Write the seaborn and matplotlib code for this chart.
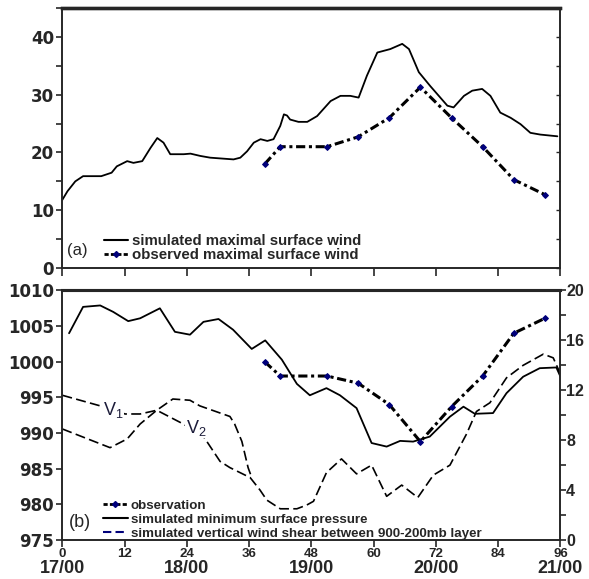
import matplotlib
matplotlib.use("Agg")
import matplotlib.pyplot as plt
from matplotlib.lines import Line2D
from matplotlib.ticker import MultipleLocator
import pandas as pd
import seaborn as sns

# ---------------- data ----------------
# (a) maximal surface wind (m/s)
wind_sim_hours = [0, 1, 2.5, 4, 7.5, 9.5, 10.5, 12.5, 13.7, 15.4, 17, 18.3, 19.5, 20.8,
                  23.4, 24.7, 26.6, 28.5, 33, 34.3, 35.6, 36.9, 38.2, 39.5, 40.7, 42,
                  42.7, 43.3, 43.9, 45.5, 47.2, 49.1, 51.7, 53.6, 55.5, 57.1, 58.7, 60.7,
                  63.2, 65.5, 66.8, 68.7, 70.9, 74.2, 75.4, 77.4, 79, 80.9, 82.5, 84.4,
                  86.4, 88.3, 90.2, 92.1, 95.4]
wind_sim = [11.8, 13.3, 15.0, 15.9, 15.9, 16.5, 17.6, 18.5, 18.2, 18.5, 20.8, 22.5, 21.7,
            19.7, 19.7, 19.8, 19.4, 19.1, 18.8, 19.1, 20.2, 21.7, 22.3, 22.0, 22.3, 24.6,
            26.6, 26.4, 25.7, 25.3, 25.3, 26.3, 28.9, 29.8, 29.8, 29.5, 33.3, 37.3, 37.9,
            38.8, 37.9, 33.9, 31.5, 28.1, 27.8, 29.8, 30.7, 31.0, 29.8, 26.9, 26.0, 24.9,
            23.4, 23.1, 22.8]
obs_hours = [39, 42, 51, 57, 63, 69, 75, 81, 87, 93]
wind_obs = [18.0, 21.0, 21.0, 22.7, 26.0, 31.3, 26.0, 21.0, 15.3, 12.7]

# (b) minimum surface pressure (hPa)
pres_sim_hours = [1.3, 4, 7.3, 9.8, 12.7, 15, 18.8, 21.7, 24.6, 27.2, 30.1, 32.9, 36.5,
                  39.1, 42.3, 45.2, 47.7, 50.9, 53.5, 56.7, 59.6, 62.5, 65.1, 67.6, 70.8,
                  74.7, 77.3, 79.5, 83, 85.6, 88.8, 92, 95.2, 96]
pres_sim = [1004.0, 1007.7, 1007.9, 1007.0, 1005.7, 1006.1, 1007.5, 1004.2, 1003.8,
            1005.6, 1006.0, 1004.5, 1001.8, 1003.0, 1000.3, 996.9, 995.3, 996.3, 995.3,
            993.5, 988.6, 988.1, 988.9, 988.8, 989.5, 992.3, 993.7, 992.7, 992.8, 995.6,
            997.9, 999.1, 999.2, 997.9]
pres_obs = [1000.0, 998.0, 998.0, 997.0, 994.0, 988.8, 993.7, 998.0, 1004.0, 1006.1]

# (b) vertical wind shear 900-200 mb (m/s), right axis
shear1_hours = [0, 7.3, 12.1, 15, 18.2, 21.3, 24.6, 26.5, 32.3, 33.2, 34.6, 35.8, 36.5]
shear1 = [11.6, 10.75, 10.1, 10.1, 10.4, 11.3, 11.2, 10.75, 9.9, 9.3, 7.9, 5.8, 5.0]
shear2_hours = [0, 9.2, 12.5, 15, 18.2, 23.3, 27.2, 30.4, 32.3, 36.2, 38.1, 39.4, 42,
                45.2, 47.1, 48.4, 50.9, 53.8, 56.7, 59.6, 62.5, 65.4, 68.5, 71.5, 74.7,
                77.9, 79.8, 82.4, 85.6, 88.8, 92.7, 94.6, 96]
shear2 = [8.9, 7.4, 8.1, 9.3, 10.4, 9.3, 8.3, 6.3, 5.8, 5.0, 4.0, 3.2, 2.5, 2.5, 2.8, 3.1,
          5.4, 6.5, 5.3, 6.0, 3.5, 4.4, 3.4, 5.2, 6.0, 8.5, 10.3, 11.0, 13.0, 14.0, 14.9,
          14.6, 13.3]

hour_ticks = [0, 12, 24, 36, 48, 60, 72, 84, 96]
date_hours = [0, 24, 48, 72, 96]
date_labels = ["17/00", "18/00", "19/00", "20/00", "21/00"]

# ---------------- style ----------------
sns.set_style("ticks")
plt.rcParams["font.family"] = ["Liberation Sans", "DejaVu Sans"]
plt.rcParams["axes.linewidth"] = 1.2
plt.rcParams["xtick.major.width"] = 1.2
plt.rcParams["ytick.major.width"] = 1.2
plt.rcParams["ytick.minor.width"] = 1.2

NAVY = "#00007a"
OBS_LS = (0, (3, 1.2, 1, 1.2))
SHEAR_LS = (0, (6, 2.6))

fig = plt.figure(figsize=(5.89, 5.79), dpi=100)
ax1 = fig.add_axes([0.1058, 0.5371, 0.8458, 0.449])
ax2 = fig.add_axes([0.1058, 0.0674, 0.8458, 0.4309])

left_font = dict(family="DejaVu Sans", weight="bold", size=12)

# ---------------- panel (a) ----------------
df_ws = pd.DataFrame({"hour": wind_sim_hours, "wind": wind_sim})
df_wo = pd.DataFrame({"hour": obs_hours, "wind": wind_obs})
sns.lineplot(data=df_ws, x="hour", y="wind", ax=ax1, color="black", linewidth=1.3,
             errorbar=None)
sns.lineplot(data=df_wo, x="hour", y="wind", ax=ax1, color="black", linewidth=2.2,
             linestyle=OBS_LS, marker="D", markersize=3, markerfacecolor=NAVY,
             markeredgecolor=NAVY, errorbar=None)

ax1.set_xlim(0, 96)
ax1.set_ylim(0, 45)
ax1.set_xlabel("")
ax1.set_ylabel("")
ax1.set_xticks(hour_ticks)
ax1.set_xticklabels([])
ax1.tick_params(axis="x", direction="out", length=6, width=1.2)
ax1.set_yticks([0, 10, 20, 30, 40])
ax1.yaxis.set_minor_locator(MultipleLocator(5))
ax1.tick_params(axis="y", which="both", direction="out", length=4, pad=2)
for t in ax1.get_yticklabels():
    t.set_fontproperties(left_font)
ax1.spines["top"].set_linewidth(2.4)

ax1r = ax1.twinx()
ax1r.set_ylim(0, 45)
ax1r.set_yticks([0, 5, 10, 15, 20, 25, 30, 35, 40])
ax1r.set_yticklabels([])
ax1r.tick_params(axis="y", direction="in", length=3, width=1.0)
ax1r.spines["top"].set_linewidth(2.4)

h_a = [Line2D([], [], color="black", lw=1.5),
       Line2D([], [], color="black", lw=2.0, ls=(0, (1.5, 0.8)), marker="D",
              markersize=3, markerfacecolor=NAVY, markeredgecolor=NAVY)]
ax1.legend(h_a, ["simulated maximal surface wind", "observed maximal surface wind"],
           loc="lower left", bbox_to_anchor=(0.083, 0.022), frameon=False,
           borderpad=0, borderaxespad=0, handlelength=1.6, handletextpad=0.3,
           labelspacing=0.0, prop=dict(weight="bold", size=10.8))
ax1.text(0.03, 0.069, "(a)", transform=ax1.transAxes, fontsize=12,
         ha="center", va="center")

# ---------------- panel (b) ----------------
ax2r = ax2.twinx()
df_ps = pd.DataFrame({"hour": pres_sim_hours, "p": pres_sim})
df_po = pd.DataFrame({"hour": obs_hours, "p": pres_obs})
df_s1 = pd.DataFrame({"hour": shear1_hours, "s": shear1})
df_s2 = pd.DataFrame({"hour": shear2_hours, "s": shear2})

sns.lineplot(data=df_s1, x="hour", y="s", ax=ax2r, color="black", linewidth=1.2,
             linestyle=SHEAR_LS, errorbar=None)
sns.lineplot(data=df_s2, x="hour", y="s", ax=ax2r, color="black", linewidth=1.2,
             linestyle=SHEAR_LS, errorbar=None)
sns.lineplot(data=df_ps, x="hour", y="p", ax=ax2, color="black", linewidth=1.3,
             errorbar=None)
sns.lineplot(data=df_po, x="hour", y="p", ax=ax2, color="black", linewidth=2.2,
             linestyle=OBS_LS, marker="D", markersize=3, markerfacecolor=NAVY,
             markeredgecolor=NAVY, errorbar=None)

ax2.set_zorder(ax2r.get_zorder() + 1)
ax2.patch.set_visible(False)

ax2.set_xlim(0, 96)
ax2.set_ylim(975, 1010)
ax2r.set_ylim(0, 20)
for a in (ax2, ax2r):
    a.set_xlabel("")
    a.set_ylabel("")
ax2.set_xticks(hour_ticks)
ax2.set_xticklabels([str(h) for h in hour_ticks], fontsize=9.5, weight="bold")
ax2.tick_params(axis="x", direction="out", length=5, pad=1)
ax2.set_yticks([975, 980, 985, 990, 995, 1000, 1005, 1010])
ax2.tick_params(axis="y", direction="out", length=4, pad=2)
for t in ax2.get_yticklabels():
    t.set_fontproperties(left_font)
ax2r.set_yticks([0, 4, 8, 12, 16, 20])
ax2r.yaxis.set_minor_locator(MultipleLocator(2))
ax2r.tick_params(axis="y", which="both", direction="out", length=4, pad=0)
ax2r.set_yticklabels([str(v) for v in [0, 4, 8, 12, 16, 20]], fontsize=11.5,
                     weight="bold")
for a in (ax2, ax2r):
    a.spines["top"].set_linewidth(2.2)

for h, lab in zip(date_hours, date_labels):
    ax2.text(h, -0.134, lab, transform=ax2.get_xaxis_transform(), ha="center",
             va="baseline", fontsize=13, weight="bold")

lab_box = dict(facecolor="white", edgecolor="none", pad=0.3)
ax2r.text(7.8, 10.4, "V$_\\mathregular{1}$", fontsize=13, color="#1c1c3a",
          ha="left", va="center", bbox=lab_box)
ax2r.text(23.8, 9.0, "V$_\\mathregular{2}$", fontsize=13, color="#1c1c3a",
          ha="left", va="center", bbox=lab_box)

h_b = [Line2D([], [], color="black", lw=2.0, ls=(0, (1.5, 0.8)), marker="D",
              markersize=3, markerfacecolor=NAVY, markeredgecolor=NAVY),
       Line2D([], [], color="black", lw=1.5),
       Line2D([], [], color=NAVY, lw=1.5, ls=(0, (4, 2)))]
ax2.legend(h_b, ["observation", "simulated minimum surface pressure",
                 "simulated vertical wind shear between 900-200mb layer"],
           loc="lower left", bbox_to_anchor=(0.081, 0.0), frameon=False,
           borderpad=0, borderaxespad=0, handlelength=1.9, handletextpad=0.2,
           labelspacing=0.12, prop=dict(weight="bold", size=9.6))
ax2.text(0.036, 0.072, "(b)", transform=ax2.transAxes, fontsize=13,
         ha="center", va="center")

fig.savefig("out.png", dpi=100, facecolor="white")
